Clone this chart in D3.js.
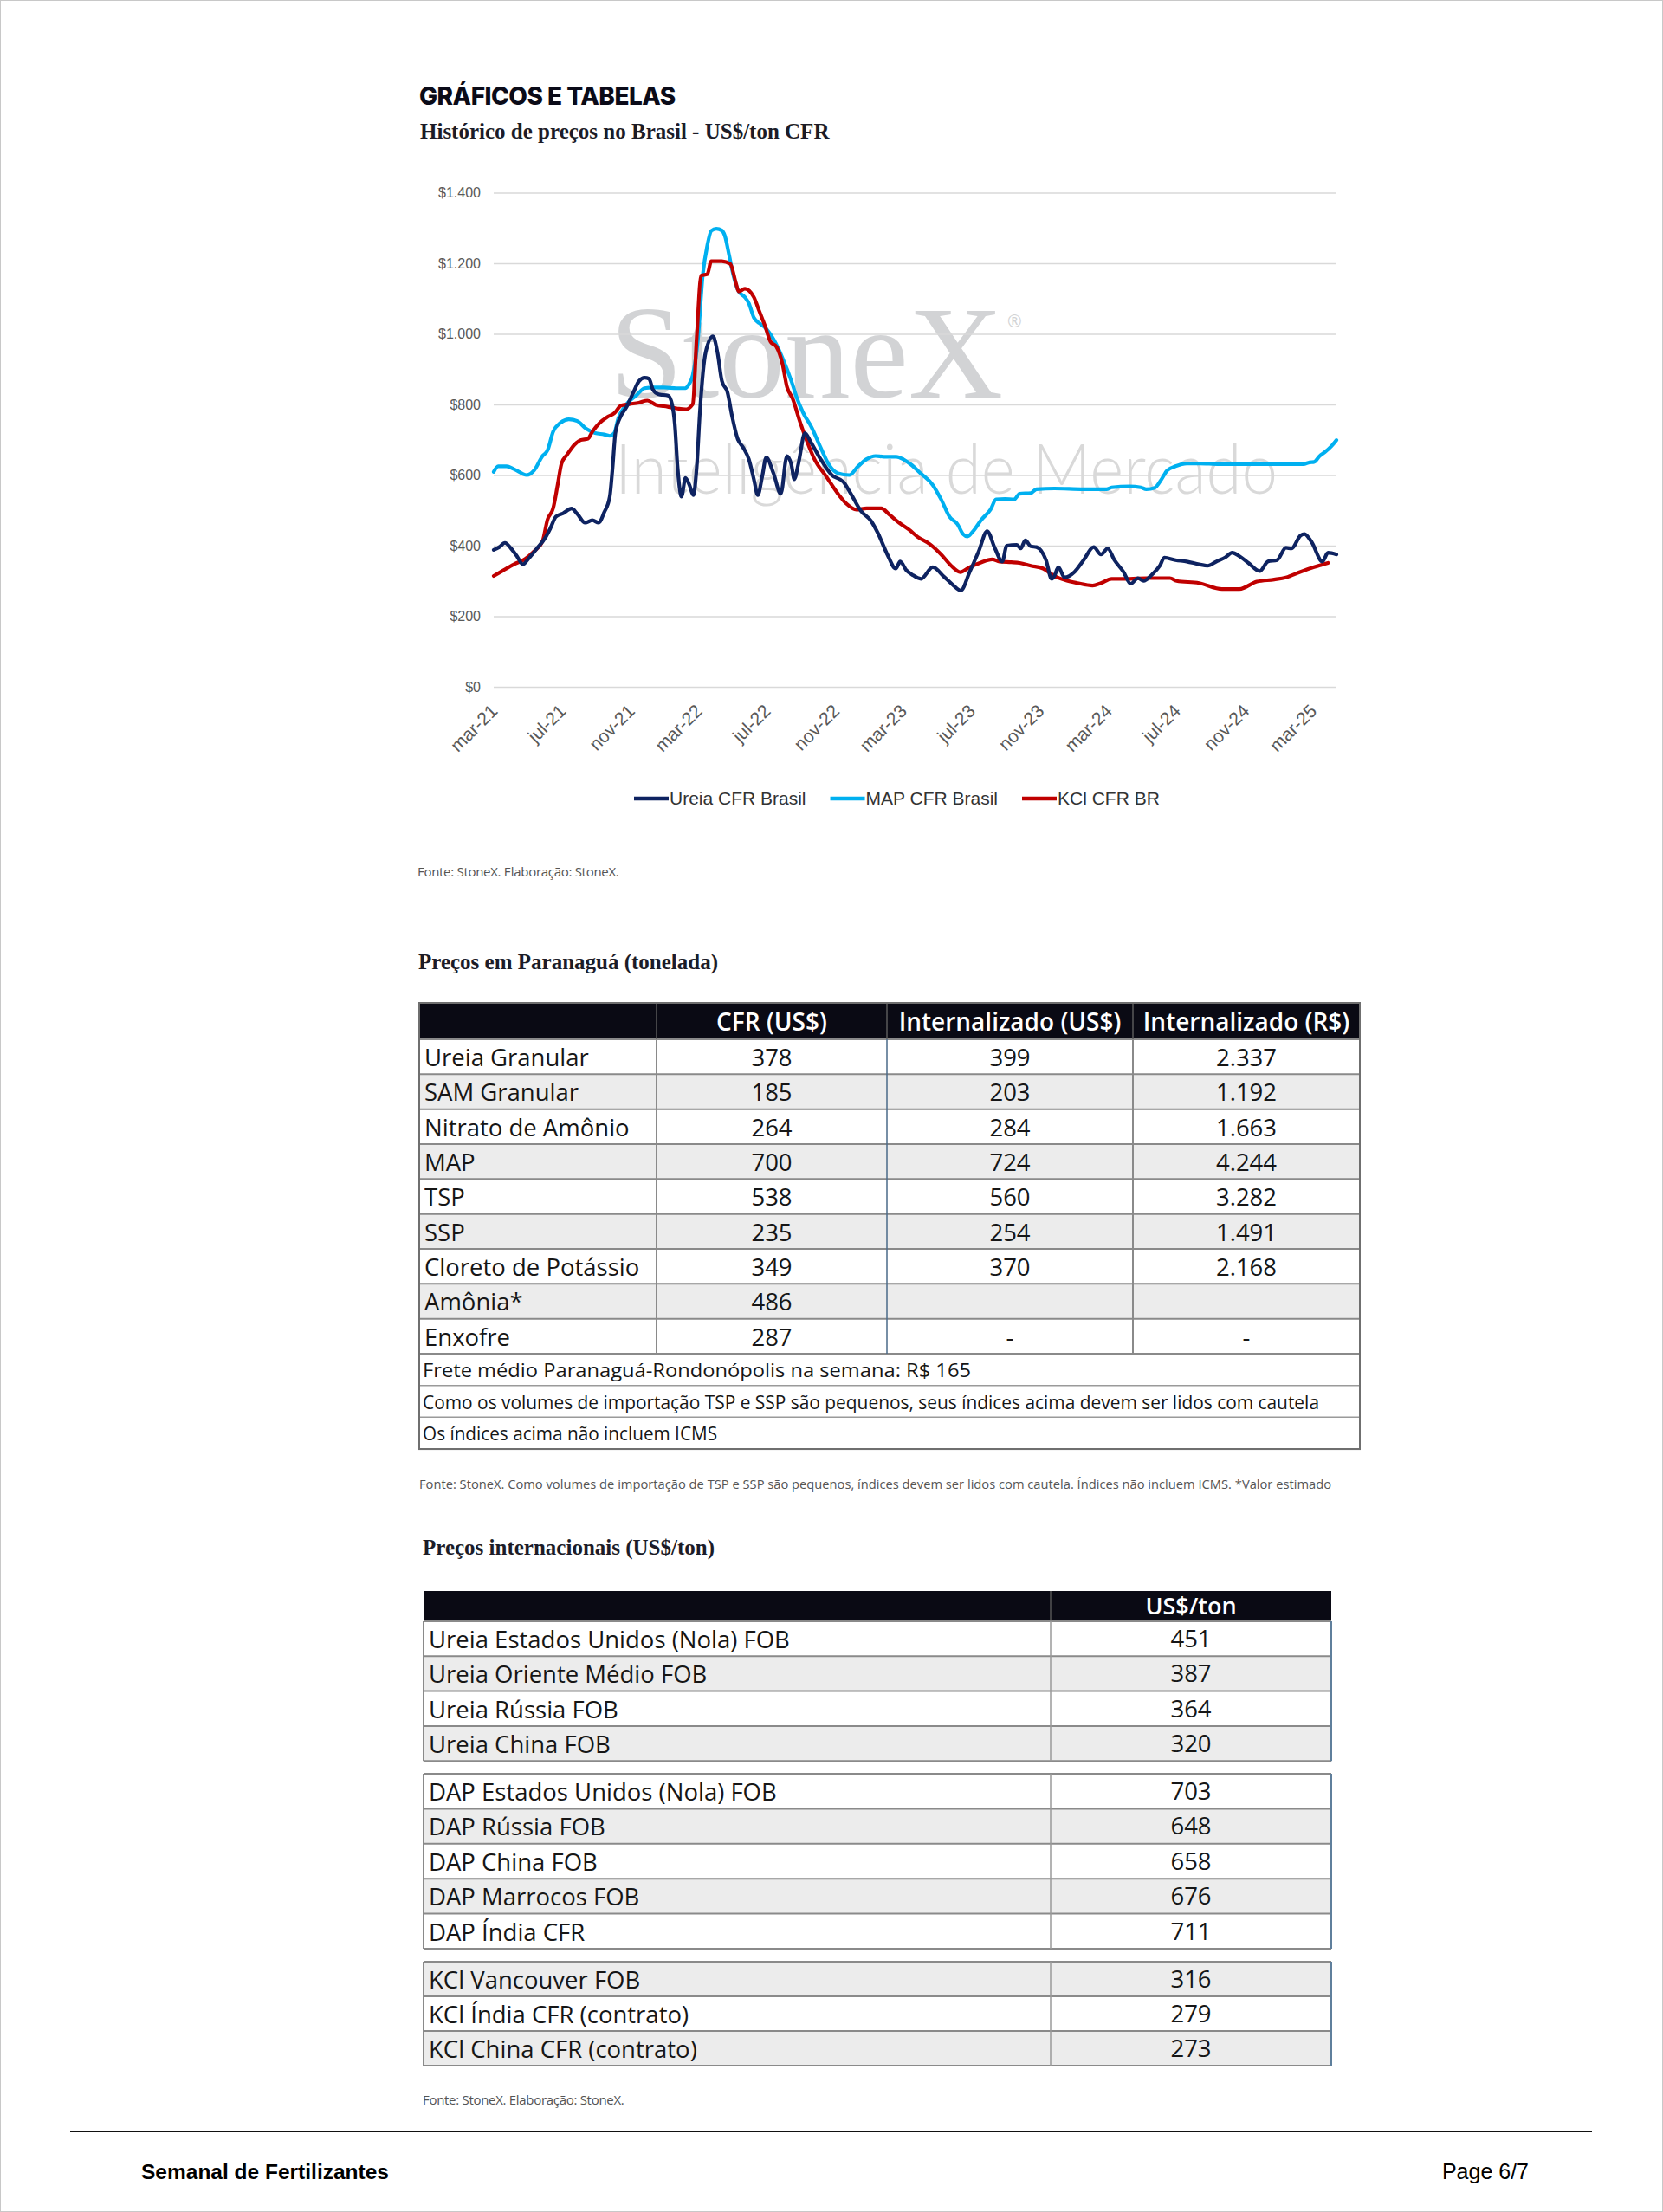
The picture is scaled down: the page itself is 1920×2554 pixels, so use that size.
<!DOCTYPE html>
<html><head><meta charset="utf-8">
<script src="https://cdn.jsdelivr.net/npm/d3@7"></script>
<style>
html,body{margin:0;padding:0;background:#fff;}
svg{display:block;}
</style></head><body>
<svg id="page" width="1920" height="2554"></svg>
<script>
// ---------------- DATA ----------------
const pageTitle = "GRÁFICOS E TABELAS";
const chartTitle = "Histórico de preços no Brasil - US$/ton CFR";
const chartSource = "Fonte: StoneX. Elaboração: StoneX.";
const seriesNames = ["Ureia CFR Brasil", "MAP CFR Brasil", "KCl CFR BR"];
const yTicks = [0, 200, 400, 600, 800, 1000, 1200, 1400];
const xTickLabels = ["mar-21","jul-21","nov-21","mar-22","jul-22","nov-22","mar-23","jul-23","nov-23","mar-24","jul-24","nov-24","mar-25"];

const ureiaDates = ["2021-03-01","2021-03-11","2021-03-21","2021-04-01","2021-04-11","2021-04-22","2021-05-02","2021-05-17","2021-06-02","2021-06-10","2021-06-20","2021-07-03","2021-07-18","2021-07-28","2021-08-11","2021-08-24","2021-09-04","2021-09-14","2021-09-24","2021-09-29","2021-10-04","2021-10-14","2021-10-24","2021-11-05","2021-11-15","2021-11-25","2021-12-03","2021-12-10","2021-12-20","2022-01-06","2022-01-13","2022-01-18","2022-01-23","2022-01-30","2022-02-06","2022-02-13","2022-02-20","2022-02-26","2022-03-04","2022-03-14","2022-03-27","2022-04-04","2022-04-12","2022-04-22","2022-04-30","2022-05-10","2022-05-20","2022-05-30","2022-06-08","2022-06-15","2022-06-23","2022-06-30","2022-07-13","2022-07-26","2022-08-06","2022-08-14","2022-08-19","2022-08-27","2022-09-07","2022-09-17","2022-10-05","2022-10-25","2022-11-15","2022-11-28","2022-12-16","2023-01-03","2023-01-16","2023-02-01","2023-02-16","2023-02-24","2023-03-07","2023-03-17","2023-04-02","2023-04-23","2023-05-13","2023-05-28","2023-06-12","2023-06-28","2023-07-14","2023-07-29","2023-08-12","2023-08-25","2023-09-02","2023-09-20","2023-09-27","2023-10-05","2023-10-15","2023-10-25","2023-11-11","2023-11-21","2023-11-26","2023-12-03","2023-12-14","2024-01-01","2024-01-17","2024-02-04","2024-02-17","2024-02-29","2024-03-12","2024-03-28","2024-04-10","2024-04-23","2024-05-03","2024-05-18","2024-06-01","2024-06-09","2024-06-29","2024-07-19","2024-08-10","2024-08-25","2024-09-10","2024-09-26","2024-10-08","2024-10-21","2024-11-06","2024-11-26","2024-12-11","2024-12-27","2025-01-12","2025-01-22","2025-02-07","2025-02-14","2025-02-26","2025-03-18","2025-03-28","2025-04-12"];
const ureiaValues = [388,396,408,392,371,347,363,392,425,449,482,492,505,490,465,472,465,494,539,621,719,768,793,834,866,876,873,842,829,825,801,744,621,539,592,572,543,621,785,948,993,948,866,834,768,703,678,645,588,543,597,650,605,547,654,629,588,637,719,695,645,600,580,547,498,470,433,375,335,355,330,318,306,339,312,290,273,326,384,441,392,355,400,402,392,415,398,396,359,306,314,339,310,326,359,396,375,392,359,326,292,308,300,318,343,366,359,355,347,343,355,367,380,370,351,328,355,359,394,392,429,433,412,355,380,375];

const mapDates = ["2021-03-01","2021-03-09","2021-03-24","2021-04-06","2021-04-29","2021-05-12","2021-05-27","2021-06-05","2021-06-15","2021-06-28","2021-07-13","2021-07-28","2021-08-13","2021-08-29","2021-09-14","2021-09-24","2021-10-02","2021-10-09","2021-10-24","2021-11-10","2021-11-25","2021-12-10","2021-12-30","2022-01-21","2022-02-06","2022-02-11","2022-02-19","2022-02-28","2022-03-09","2022-03-17","2022-03-24","2022-04-02","2022-04-12","2022-04-17","2022-04-25","2022-05-02","2022-05-12","2022-05-23","2022-05-30","2022-06-08","2022-06-18","2022-06-28","2022-07-13","2022-07-29","2022-08-14","2022-08-24","2022-09-04","2022-09-19","2022-10-05","2022-10-20","2022-11-05","2022-11-25","2022-12-11","2022-12-26","2023-01-11","2023-01-26","2023-02-17","2023-03-02","2023-03-15","2023-04-02","2023-04-23","2023-05-08","2023-05-23","2023-06-06","2023-06-16","2023-06-24","2023-07-04","2023-07-19","2023-08-04","2023-08-14","2023-08-30","2023-09-15","2023-09-25","2023-10-15","2023-10-25","2023-11-26","2024-01-17","2024-02-27","2024-03-07","2024-04-08","2024-04-28","2024-05-08","2024-05-23","2024-06-04","2024-06-14","2024-06-29","2024-07-19","2024-08-10","2024-09-15","2024-11-21","2025-01-12","2025-02-12","2025-02-23","2025-03-03","2025-03-13","2025-03-23","2025-04-03","2025-04-12"];
const mapValues = [609,625,625,617,600,613,654,670,723,748,758,753,731,719,715,711,719,760,801,825,846,848,848,846,846,854,883,981,1169,1251,1292,1298,1293,1279,1222,1169,1120,1104,1087,1046,1030,1018,985,932,866,817,776,735,678,629,605,600,625,645,654,652,652,644,630,604,572,531,482,461,433,426,441,474,502,531,532,531,547,549,560,562,560,560,565,568,565,560,564,588,613,625,633,633,631,631,631,631,636,637,654,666,682,699];

const kclDates = ["2021-03-01","2021-03-16","2021-04-06","2021-04-27","2021-05-12","2021-05-27","2021-06-05","2021-06-15","2021-06-23","2021-06-30","2021-07-10","2021-07-23","2021-08-03","2021-08-16","2021-08-24","2021-09-06","2021-09-19","2021-10-02","2021-10-14","2021-10-29","2021-11-15","2021-11-30","2021-12-15","2021-12-30","2022-01-21","2022-02-06","2022-02-19","2022-02-26","2022-03-06","2022-03-17","2022-03-24","2022-04-12","2022-04-27","2022-05-07","2022-05-12","2022-05-23","2022-06-08","2022-06-18","2022-06-28","2022-07-08","2022-07-18","2022-07-29","2022-08-06","2022-08-16","2022-08-29","2022-09-09","2022-09-24","2022-10-15","2022-11-05","2022-11-20","2022-12-08","2022-12-26","2023-01-21","2023-02-06","2023-02-22","2023-03-12","2023-03-27","2023-04-18","2023-05-08","2023-05-26","2023-06-11","2023-06-28","2023-07-16","2023-08-07","2023-08-20","2023-09-10","2023-09-25","2023-10-15","2023-11-06","2023-11-26","2023-12-16","2024-01-06","2024-02-02","2024-02-17","2024-03-07","2024-04-08","2024-05-08","2024-06-19","2024-07-01","2024-08-10","2024-09-20","2024-10-21","2024-11-21","2024-12-22","2025-01-12","2025-02-07","2025-03-03","2025-03-28"];
const kclValues = [314,328,347,363,384,412,474,506,572,633,658,686,699,703,723,748,764,775,797,801,805,811,799,795,789,786,801,989,1165,1169,1206,1206,1198,1144,1120,1128,1104,1063,1022,977,964,915,850,817,752,703,645,596,547,519,502,506,506,486,465,445,425,404,375,343,325,339,351,361,355,353,351,343,335,314,302,294,287,294,306,306,308,308,300,294,277,277,298,304,310,326,339,351];

const paranaguaTitle = "Preços em Paranaguá (tonelada)";
const paranaguaHeaders = ["", "CFR (US$)", "Internalizado (US$)", "Internalizado (R$)"];
const paranaguaProducts = ["Ureia Granular","SAM Granular","Nitrato de Amônio","MAP","TSP","SSP","Cloreto de Potássio","Amônia*","Enxofre"];
const cfrUSD = [378,185,264,700,538,235,349,486,287];
const internUSD = [399,203,284,724,560,254,370,null,"-"];
const internBRL = [2337,1192,1663,4244,3282,1491,2168,null,"-"];
const paranaguaNotes = ["Frete médio Paranaguá-Rondonópolis na semana: R$ 165",
  "Como os volumes de importação TSP e SSP são pequenos, seus índices acima devem ser lidos com cautela",
  "Os índices acima não incluem ICMS"];
const paranaguaSource = "Fonte: StoneX.  Como volumes de importação de TSP e SSP são pequenos,  índices devem ser lidos com cautela. Índices não incluem ICMS. *Valor estimado";

const intlTitle = "Preços internacionais (US$/ton)";
const intlHeader = "US$/ton";
const ureiaIntlNames = ["Ureia Estados Unidos (Nola) FOB","Ureia Oriente Médio FOB","Ureia Rússia FOB","Ureia China FOB"];
const ureiaIntlValues = [451,387,364,320];
const dapIntlNames = ["DAP Estados Unidos (Nola) FOB","DAP Rússia FOB","DAP China FOB","DAP Marrocos FOB","DAP Índia CFR"];
const dapIntlValues = [703,648,658,676,711];
const kclIntlNames = ["KCl Vancouver FOB","KCl Índia CFR (contrato)","KCl China CFR (contrato)"];
const kclIntlValues = [316,279,273];
const intlSource = "Fonte: StoneX. Elaboração: StoneX.";
const footerLeft = "Semanal de Fertilizantes";
const footerRight = "Page 6/7";

// ---------------- RENDER ----------------
const W = 1920, H = 2554;
const svg = d3.select("#page");
const SANS = "'Open Sans','Liberation Sans',sans-serif";
const SERIF = "'Liberation Serif','DejaVu Serif',serif";
const CHART = "'Liberation Sans',Arial,sans-serif";
const parse = d3.utcParse("%Y-%m-%d");
const loc = d3.formatLocale({decimal: ",", thousands: ".", grouping: [3], currency: ["$", ""]});
const fmtMoney = loc.format("$,.0f");
const fmtNum = loc.format(",.0f");
const monthMap = {jan:0,fev:1,mar:2,abr:3,mai:4,jun:5,jul:6,ago:7,set:8,out:9,nov:10,dez:11};
const xTickDates = xTickLabels.map(s => { const [m, yy] = s.split("-"); return new Date(Date.UTC(2000 + (+yy), monthMap[m], 1)); });

svg.append("rect").attr("x", 0.5).attr("y", 0.5).attr("width", W - 1).attr("height", H - 1)
  .attr("fill", "#fff").attr("stroke", "#c8c8c8");

svg.append("text").attr("x", 484).attr("y", 121).text(pageTitle)
  .attr("font-family", "Inter,'Liberation Sans',sans-serif").attr("font-weight", 800)
  .attr("font-size", 28).attr("letter-spacing", -0.5).attr("fill", "#0b0b18");
svg.append("text").attr("x", 485).attr("y", 160).text(chartTitle)
  .attr("font-family", SERIF).attr("font-weight", 700).attr("font-size", 25).attr("fill", "#1c1c28");

// chart
const x = d3.scaleUtc().domain([parse("2021-03-01"), parse("2025-04-12")]).range([570, 1543]);
const y = d3.scaleLinear().domain([0, 1400]).range([793, 222.5]);
const chart = svg.append("g");

// watermark logo
chart.append("text").attr("x", 704).attr("y", 459).text("StoneX")
  .attr("font-family", SERIF).attr("font-size", 152).attr("fill", "#d2d3d5")
  .attr("textLength", 454).attr("lengthAdjust", "spacingAndGlyphs");
chart.append("text").attr("x", 1163).attr("y", 378).text("®")
  .attr("font-family", SANS).attr("font-size", 20).attr("fill", "#d2d3d5");
chart.append("text").attr("x", 710).attr("y", 570).text("Inteligência de Mercado")
  .attr("font-family", "Lato,'Open Sans',sans-serif").attr("font-weight", 300).attr("font-size", 80)
  .attr("fill", "#d9d9d9").attr("textLength", 765).attr("lengthAdjust", "spacingAndGlyphs");

const yAxis = chart.append("g").attr("transform", "translate(570,0)")
  .call(d3.axisLeft(y).tickValues(yTicks).tickFormat(fmtMoney).tickSizeInner(-(1543 - 570)).tickSizeOuter(0).tickPadding(15));
yAxis.select(".domain").remove();
yAxis.selectAll(".tick line").attr("stroke", "#d9d9d9").attr("stroke-width", 1.6);
yAxis.selectAll(".tick text").attr("font-family", CHART).attr("font-size", 16).attr("fill", "#595959");

const xAxis = chart.append("g").attr("transform", "translate(0,793)")
  .call(d3.axisBottom(x).tickValues(xTickDates).tickFormat((d, i) => xTickLabels[i]).tickSize(0));
xAxis.select(".domain").remove();
xAxis.selectAll(".tick text").attr("font-family", CHART).attr("font-size", 21).attr("fill", "#595959")
  .attr("text-anchor", "end").attr("x", -17).attr("y", 17).attr("dy", "0.35em").attr("transform", "rotate(-45)");

const line = d3.line().x(d => x(d[0])).y(d => y(d[1])).curve(d3.curveMonotoneX);
const series = [
  {dates: ureiaDates, values: ureiaValues, color: "#0e2361"},
  {dates: mapDates, values: mapValues, color: "#00b0f0"},
  {dates: kclDates, values: kclValues, color: "#c00000"}
];
[series[1], series[2], series[0]].forEach(s => {
  const pts = s.dates.map((d, i) => [parse(d), s.values[i]]);
  chart.append("path").datum(pts).attr("d", line).attr("fill", "none")
    .attr("stroke", s.color).attr("stroke-width", 4.2).attr("stroke-linejoin", "round").attr("stroke-linecap", "round");
});

// legend
const leg = chart.append("g");
let lx = 732;
series.forEach((s, i) => {
  leg.append("line").attr("x1", lx).attr("x2", lx + 40).attr("y1", 922).attr("y2", 922)
    .attr("stroke", s.color).attr("stroke-width", 4.5);
  const t = leg.append("text").attr("x", lx + 41).attr("y", 922).attr("dy", "0.35em").text(seriesNames[i])
    .attr("font-family", CHART).attr("font-size", 21).attr("fill", "#333");
  lx += 41 + t.node().getComputedTextLength() + 28;
});

svg.append("text").attr("x", 482).attr("y", 1012).text(chartSource)
  .attr("font-family", SANS).attr("font-size", 15).attr("letter-spacing", -0.3).attr("fill", "#555");

// ---------- Table 1 ----------
svg.append("text").attr("x", 483).attr("y", 1119).text(paranaguaTitle)
  .attr("font-family", SERIF).attr("font-weight", 700).attr("font-size", 25).attr("fill", "#1c1c28");

const t1 = svg.append("g");
const c1 = [484, 758, 1024, 1308, 1570];
const head1 = [1158, 1200];
const rowH1 = 40.33;
const noteH = 36.7;
const rowsTop = head1[1];
const notesTop = rowsTop + paranaguaProducts.length * rowH1;
const tableBottom1 = notesTop + paranaguaNotes.length * noteH;
const TXT = "#161616";
const noteWidths = [633, 1035, 340];

t1.append("rect").attr("x", c1[0]).attr("y", head1[0]).attr("width", c1[4] - c1[0]).attr("height", head1[1] - head1[0]).attr("fill", "#0a0a14");
paranaguaProducts.forEach((p, i) => {
  const top = rowsTop + i * rowH1;
  t1.append("rect").attr("x", c1[0]).attr("y", top).attr("width", c1[4] - c1[0]).attr("height", rowH1)
    .attr("fill", i % 2 ? "#ececec" : "#fff");
  const cells = [p, cfrUSD[i], internUSD[i], internBRL[i]];
  cells.forEach((v, j) => {
    if (v === null) return;
    const txt = typeof v === "number" ? fmtNum(v) : v;
    t1.append("text").attr("x", j === 0 ? c1[0] + 6 : (c1[j] + c1[j + 1]) / 2).attr("y", top + 31)
      .attr("text-anchor", j === 0 ? "start" : "middle").text(txt)
      .attr("font-family", SANS).attr("font-size", 27.5).attr("fill", TXT);
  });
});
paranaguaHeaders.forEach((h, j) => {
  if (!h) return;
  t1.append("text").attr("x", (c1[j] + c1[j + 1]) / 2).attr("y", head1[0] + 32).attr("text-anchor", "middle").text(h)
    .attr("font-family", SANS).attr("font-weight", 600).attr("font-size", 28).attr("fill", "#fff");
});
paranaguaNotes.forEach((n, i) => {
  const top = notesTop + i * noteH;
  t1.append("text").attr("x", c1[0] + 4).attr("y", top + 27).text(n)
    .attr("font-family", SANS).attr("font-size", 22).attr("fill", TXT)
    .attr("textLength", noteWidths[i]).attr("lengthAdjust", "spacingAndGlyphs");
});
for (let i = 0; i <= paranaguaProducts.length; i++) {
  const yy = rowsTop + i * rowH1;
  t1.append("line").attr("x1", c1[0]).attr("x2", c1[4]).attr("y1", yy).attr("y2", yy).attr("stroke", "#8a8a8a").attr("stroke-width", 2);
}
for (let i = 1; i <= paranaguaNotes.length; i++) {
  const yy = notesTop + i * noteH;
  t1.append("line").attr("x1", c1[0]).attr("x2", c1[4]).attr("y1", yy).attr("y2", yy).attr("stroke", i === paranaguaNotes.length ? "#7a7a7a" : "#9a9a9a").attr("stroke-width", i === paranaguaNotes.length ? 2 : 1.5);
}
[1, 2, 3].forEach(j => {
  t1.append("line").attr("x1", c1[j]).attr("x2", c1[j]).attr("y1", head1[0]).attr("y2", rowsTop)
    .attr("stroke", "#5a5a5a").attr("stroke-width", 1.5);
  t1.append("line").attr("x1", c1[j]).attr("x2", c1[j]).attr("y1", rowsTop).attr("y2", notesTop)
    .attr("stroke", j === 2 ? "#4a6a88" : "#8a8a8a").attr("stroke-width", j === 2 ? 1.5 : 2);
});
t1.append("rect").attr("x", c1[0]).attr("y", head1[0]).attr("width", c1[4] - c1[0]).attr("height", tableBottom1 - head1[0])
  .attr("fill", "none").attr("stroke", "#6f6f6f").attr("stroke-width", 2);

svg.append("text").attr("x", 484).attr("y", 1719).text(paranaguaSource)
  .attr("font-family", SANS).attr("font-size", 14.5).attr("fill", "#555")
  .attr("textLength", 1053).attr("lengthAdjust", "spacingAndGlyphs");

// ---------- Table 2 ----------
svg.append("text").attr("x", 488).attr("y", 1795).text(intlTitle)
  .attr("font-family", SERIF).attr("font-weight", 700).attr("font-size", 25).attr("fill", "#1c1c28");
const t2 = svg.append("g");
const c2 = [489, 1213, 1537];
t2.append("rect").attr("x", c2[0]).attr("y", 1837).attr("width", c2[2] - c2[0]).attr("height", 35).attr("fill", "#0a0a14");
t2.append("line").attr("x1", c2[1]).attr("x2", c2[1]).attr("y1", 1837).attr("y2", 1872).attr("stroke", "#555").attr("stroke-width", 1.5);
t2.append("text").attr("x", (c2[1] + c2[2]) / 2).attr("y", 1864).attr("text-anchor", "middle").text(intlHeader)
  .attr("font-family", SANS).attr("font-weight", 600).attr("font-size", 27).attr("fill", "#fff");

const groups = [
  {names: ureiaIntlNames, values: ureiaIntlValues, top: 1872, rh: 40.3},
  {names: dapIntlNames, values: dapIntlValues, top: 2048, rh: 40.4},
  {names: kclIntlNames, values: kclIntlValues, top: 2265, rh: 40}
];
let gi = 0;
groups.forEach(g => {
  g.names.forEach((n, i) => {
    const top = g.top + i * g.rh;
    t2.append("rect").attr("x", c2[0]).attr("y", top).attr("width", c2[2] - c2[0]).attr("height", g.rh)
      .attr("fill", gi % 2 ? "#ececec" : "#fff");
    t2.append("text").attr("x", c2[0] + 6).attr("y", top + 31).text(n)
      .attr("font-family", SANS).attr("font-size", 27.5).attr("fill", TXT);
    t2.append("text").attr("x", (c2[1] + c2[2]) / 2).attr("y", top + 30).attr("text-anchor", "middle").text(fmtNum(g.values[i]))
      .attr("font-family", SANS).attr("font-size", 27.5).attr("fill", TXT);
    gi++;
  });
  const bottom = g.top + g.names.length * g.rh;
  for (let i = 0; i <= g.names.length; i++) {
    const yy = g.top + i * g.rh;
    t2.append("line").attr("x1", c2[0]).attr("x2", c2[2]).attr("y1", yy).attr("y2", yy).attr("stroke", "#8a8a8a").attr("stroke-width", 2);
  }
  t2.append("line").attr("x1", c2[1]).attr("x2", c2[1]).attr("y1", g.top).attr("y2", bottom).attr("stroke", "#9a9a9a").attr("stroke-width", 1.5);
  t2.append("line").attr("x1", c2[0]).attr("x2", c2[0]).attr("y1", g.top).attr("y2", bottom).attr("stroke", "#8a8a8a").attr("stroke-width", 2);
  t2.append("line").attr("x1", c2[2]).attr("x2", c2[2]).attr("y1", g.top).attr("y2", bottom).attr("stroke", "#5f7f9c").attr("stroke-width", 2);
});

svg.append("text").attr("x", 488).attr("y", 2430).text(intlSource)
  .attr("font-family", SANS).attr("font-size", 15).attr("letter-spacing", -0.3).attr("fill", "#555");

// ---------- Footer ----------
svg.append("line").attr("x1", 81).attr("x2", 1838).attr("y1", 2461).attr("y2", 2461).attr("stroke", "#111").attr("stroke-width", 2);
svg.append("text").attr("x", 163).attr("y", 2516).text(footerLeft)
  .attr("font-family", CHART).attr("font-weight", 700).attr("font-size", 24.5).attr("fill", "#000");
svg.append("text").attr("x", 1765).attr("y", 2516).attr("text-anchor", "end").text(footerRight)
  .attr("font-family", CHART).attr("font-size", 25).attr("fill", "#000");
</script></body></html>
